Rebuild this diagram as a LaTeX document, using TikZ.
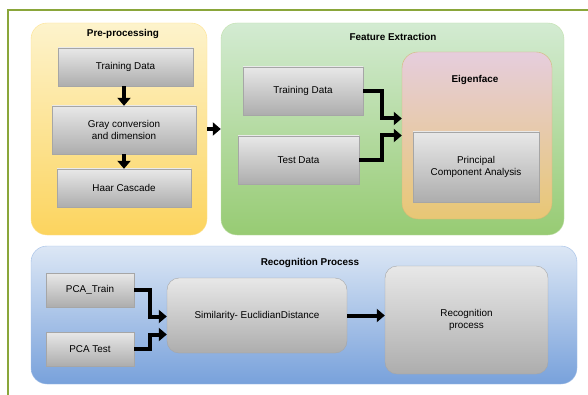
\documentclass[tikz,border=0pt]{standalone}
\usepackage{fontspec}
\setmainfont{Liberation Sans}
\usetikzlibrary{arrows.meta}
\definecolor{frameline}{HTML}{8AA63A}
\definecolor{yellowtop}{HTML}{FDF3CC}
\definecolor{yellowbot}{HTML}{FCD45E}
\definecolor{greentop}{HTML}{D3EBD2}
\definecolor{greenbot}{HTML}{97CB73}
\definecolor{pinktop}{HTML}{E6CDDD}
\definecolor{pinkbot}{HTML}{E8C774}
\definecolor{bluetop}{HTML}{DCE7F5}
\definecolor{bluebot}{HTML}{78A1DB}
\definecolor{boxtop}{HTML}{E8E8E8}
\definecolor{boxbot}{HTML}{ADADAD}
\begin{document}
\begin{tikzpicture}[x=1pt,y=-1pt,
	every node/.style={font=\fontsize{9.9}{12}\selectfont, align=center},
	group/.style={rounded corners=16pt, inner sep=0pt},
	step box/.style={draw=gray!70, top color=boxtop, bottom color=boxbot, inner sep=0pt},
	round box/.style={step box, rounded corners=12pt},
	title/.style={font=\fontsize{9.9}{12}\selectfont\bfseries},
	arr/.style={line width=4pt, -{Triangle[length=8pt,width=13pt]}}]
	\useasboundingbox (0,0) rectangle (588,395);
	\draw[frameline, line width=1.2pt] (588,10) -- (8,10) -- (8,395);
	% Pre-processing
	\node[group, draw=yellowbot!70, top color=yellowtop, bottom color=yellowbot, minimum width=176pt, minimum height=212pt] (pre) at (119,129) {};
	\node[title] (pretitle) at (123,34) {Pre-processing};
	\node[step box, minimum width=135pt, minimum height=38pt] (ptrain) at (125.5,67) {Training Data};
	\node[step box, minimum width=144pt, minimum height=48pt] (gray) at (124,130) {Gray conversion\\and dimension};
	\node[step box, minimum width=134pt, minimum height=38pt] (haar) at (124,188) {Haar Cascade};
	\draw[arr] (ptrain.south -| gray.north) -- (gray.north);
	\draw[arr] (gray.south) -- (haar.north);
	% Feature Extraction
	\node[group, draw=greenbot!60, top color=greentop, bottom color=greenbot, minimum width=343pt, minimum height=212pt] (feat) at (392.5,129) {};
	\node[title] (feattitle) at (393,37) {Feature Extraction};
	\node[step box, minimum width=120pt, minimum height=48pt] (ftrain) at (303,91) {Training Data};
	\node[step box, minimum width=121pt, minimum height=48pt] (ftest) at (298.5,160) {Test Data};
	\node[group, draw=pinkbot!80!gray, top color=pinktop, bottom color=pinkbot, minimum width=150pt, minimum height=167pt] (eigen) at (477,135.5) {};
	\node[title] (eigentitle) at (475,80) {Eigenface};
	\node[step box, minimum width=126pt, minimum height=70pt] (pca) at (476,167) {Principal\\Component Analysis};
	\draw[arr] (ftrain.east) -- ++(19,0) |- ([yshift=17pt]eigen.west);
	\draw[arr] (ftest.east) -- ++(23,0) |- (eigen.west);
	\draw[arr] (pre.east) -- (feat.west);
	% Recognition Process
	\node[group, draw=bluebot!70, top color=bluetop, bottom color=bluebot, minimum width=546pt, minimum height=138pt] (recog) at (304,315) {};
	\node[title] (recogtitle) at (310,263) {Recognition Process};
	\node[step box, minimum width=88pt, minimum height=34pt] (pcatrain) at (90,290) {PCA\_Train};
	\node[step box, minimum width=88pt, minimum height=34pt] (pcatest) at (90,349) {PCA Test};
	\node[round box, minimum width=180pt, minimum height=75pt] (sim) at (257,315.5) {Similarity- EuclidianDistance};
	\node[round box, minimum width=163pt, minimum height=108pt] (recproc) at (466.5,320) {Recognition\\process};
	\draw[arr] (pcatrain.east) -- ++(16,0) |- ([yshift=-1pt]sim.west);
	\draw[arr] (pcatest.east) -- ++(16,0) |- ([yshift=-19pt]sim.west);
	\draw[arr] (sim.east) -- (sim.east -| recproc.west);
\end{tikzpicture}
\end{document}
